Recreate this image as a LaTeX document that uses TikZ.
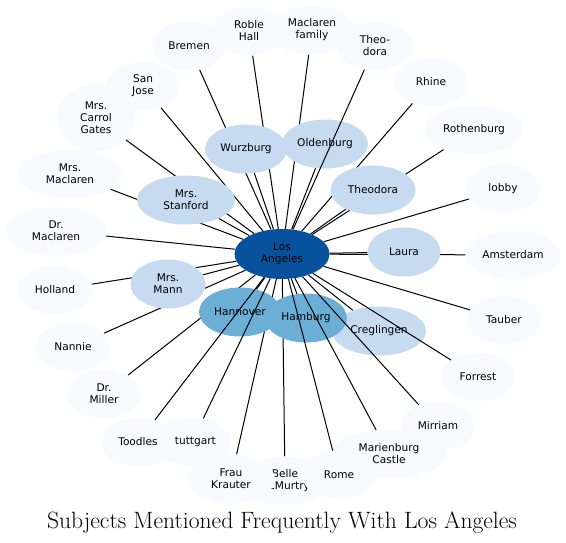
\documentclass[tikz,border=0pt]{standalone}
\usepackage{fontspec}
\newfontfamily\nodefont{DejaVu Sans}
\usetikzlibrary{shapes.geometric}

\definecolor{rimfill}{HTML}{F7FBFF}
\definecolor{nearbyfill}{HTML}{C6DBEF}
\definecolor{closestfill}{HTML}{6BAED6}
\definecolor{hubfill}{HTML}{08519C}

\pgfdeclarelayer{background}
\pgfdeclarelayer{foreground}
\pgfsetlayers{background,main,foreground}

\begin{document}
\begin{tikzpicture}[
        x = 1pt, y = -1pt,
        bubble/.style = {ellipse, inner sep = 0pt, align = center, minimum height = 49pt,
            font = \nodefont\fontsize{10.6}{12}\selectfont},
        rim/.style = {bubble, fill = rimfill, minimum width = #1},
        rim/.default = 74pt,
        nearby/.style = {bubble, fill = nearbyfill, minimum width = #1},
        nearby/.default = 74pt,
        closest/.style = {bubble, fill = closestfill, minimum width = #1},
        closest/.default = 82pt,
        hub/.style = {bubble, fill = hubfill, minimum width = 95pt, minimum height = 50pt},
        link/.style = {line width = 1pt}
    ]

    \useasboundingbox (0,0) rectangle (566,543);

    % outer ring
    \node[rim] (bremen)      at (189,46)  {Bremen};
    \node[rim] (roble)       at (249,31)  {Roble\\Hall};
    \node[rim = 86pt] (macfamily) at (312,30) {Maclaren\\family};
    \node[rim = 77pt] (theodash)  at (375,46) {Theo-\\dora};
    \node[rim] (rhine)       at (431,82)  {Rhine};
    \node[rim = 99pt] (rothenburg) at (474,130) {Rothenburg};
    \node[rim] (lobby)       at (503,189) {lobby};
    \node[rim = 95pt] (amsterdam) at (513,255) {Amsterdam};
    \node[rim] (tauber)      at (504,320) {Tauber};
    \node[rim] (forrest)     at (478,377) {Forrest};
    \node[rim] (mirriam)     at (438,426) {Mirriam};
    \node[rim = 116pt] (marienburg) at (389,454) {Marienburg\\Castle};
    \node[rim = 88pt] (belle)    at (285,481) {Belle\\McMurtry};
    \node[rim] (rome)        at (339,475) {Rome};
    \node[rim = 88pt] (krauter)  at (231,479) {Frau\\Krauter};
    \node[rim = 77pt] (stuttgart) at (192,442) {Stuttgart};
    \node[rim] (toodles)     at (138,442) {Toodles};
    \node[rim] (miller)      at (104,394) {Dr.\\Miller};
    \node[rim] (nannie)      at (73,347)  {Nannie};
    \node[rim = 75pt] (holland)  at (55,290) {Holland};
    \node[rim = 102pt] (drmaclaren)  at (56,231) {Dr.\\Maclaren};
    \node[rim = 103pt] (mrsmaclaren) at (70,174) {Mrs.\\Maclaren};
    \node[rim = 78pt, minimum height = 67pt] (gates) at (96,118) {Mrs.\\Carrol\\Gates};
    \node[rim] (sanjose)     at (143,86)  {San\\Jose};

    % inner ring
    \node[nearby = 82pt] (wurzburg)   at (246,149) {Wurzburg};
    \node[nearby = 86pt] (oldenburg)  at (325,144) {Oldenburg};
    \node[nearby = 85pt] (theodora)   at (373,190) {Theodora};
    \node[nearby = 73pt] (laura)      at (404,252) {Laura};
    \node[nearby = 94pt] (creglingen) at (379,331) {Creglingen};
    \node[nearby = 98pt] (stanford)   at (186,200) {Mrs.\\Stanford};
    \node[nearby = 75pt] (mann)       at (168,284) {Mrs.\\Mann};
    \node[closest] (hannover) at (240,312) {Hannover};
    \node[closest] (hamburg)  at (306,318) {Hamburg};

    \node[hub] (la) at (282,254) {Los\\Angeles};

    \node[font = \fontsize{23.6}{28}\selectfont, anchor = base] (title) at (282,528)
        {Subjects Mentioned Frequently With Los Angeles};

    \begin{pgfonlayer}{background}
        \path[link]
            (la) edge (bremen)     edge (roble)      edge (macfamily)
                 edge (rhine)      edge (rothenburg) edge (lobby)
                 edge (amsterdam)  edge (tauber)     edge (belle)
                 edge (krauter)    edge (miller)     edge (nannie)
                 edge (holland)    edge (drmaclaren) edge (mrsmaclaren)
                 edge (gates)      edge (sanjose)
                 edge (wurzburg)   edge (oldenburg)  edge (theodora)
                 edge (laura)      edge (creglingen) edge (stanford)
                 edge (mann)       edge (hannover)   edge (hamburg);
    \end{pgfonlayer}

    \begin{pgfonlayer}{foreground}
        \path[link]
            (la) edge (theodash)   edge (forrest)    edge (mirriam)
                 edge (marienburg) edge (rome)       edge (stuttgart)
                 edge (toodles);
    \end{pgfonlayer}

\end{tikzpicture}
\end{document}
